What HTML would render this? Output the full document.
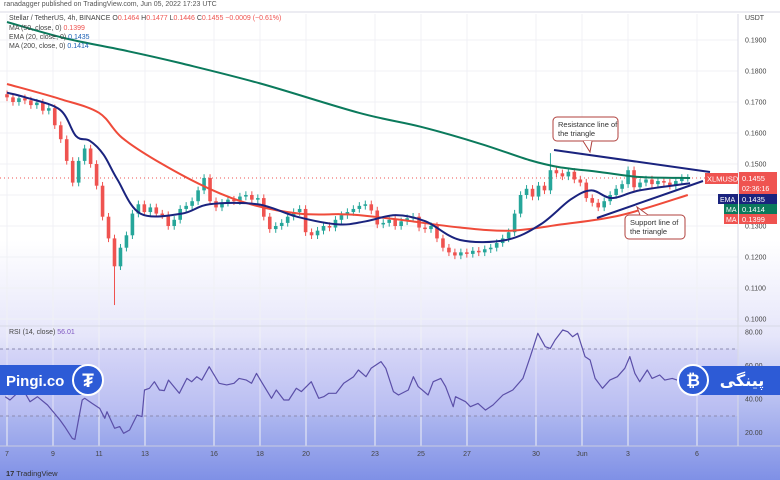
<!DOCTYPE html>
<html><head><meta charset="utf-8"><style>
html,body{margin:0;padding:0;width:780px;height:480px;overflow:hidden;background:#fff;font-family:"Liberation Sans",sans-serif}
svg{display:block}
</style></head><body>
<svg id="c" width="780" height="480" viewBox="0 0 780 480" xmlns="http://www.w3.org/2000/svg">
<defs>
<linearGradient id="bg" x1="0" y1="0" x2="0" y2="1">
<stop offset="0" stop-color="#ffffff"/><stop offset="0.5" stop-color="#ffffff"/>
<stop offset="0.7" stop-color="#e6e6fa"/><stop offset="1" stop-color="#7f90e6"/>
</linearGradient>
</defs>
<rect x="0" y="0" width="780" height="480" fill="url(#bg)"/>
<g id="grid"></g>
<rect x="0" y="349" width="738" height="67" fill="#c9c6f5" opacity="0.35"/>
<line x1="0" y1="349" x2="738" y2="349" stroke="#8b8bb0" stroke-dasharray="3,3"/>
<line x1="0" y1="416" x2="738" y2="416" stroke="#8b8bb0" stroke-dasharray="3,3"/>
<line x1="0" y1="326" x2="780" y2="326" stroke="#d8dae5"/>
<line x1="0" y1="446" x2="780" y2="446" stroke="#c8cbe0"/>
<line x1="738" y1="14" x2="738" y2="446" stroke="#d8dae5"/>
<line x1="0" y1="178" x2="738" y2="178" stroke="#ef5350" stroke-dasharray="1,3"/>
<g id="candles"></g>
<g id="mas"></g>
<g id="rsi"></g>
<g id="axes"></g>
<line x1="554" y1="150" x2="710" y2="172" stroke="#1a237e" stroke-width="2"/>
<line x1="597" y1="218" x2="703" y2="181" stroke="#1a237e" stroke-width="2"/>
<g>
<rect x="553" y="117" width="65" height="24" rx="4" fill="#fff" stroke="#b0413e"/>
<path d="M583 141 L590 152 L592 141" fill="#fff" stroke="#b0413e"/>
<text x="558" y="127" font-size="7.5" fill="#333">Resistance line of</text>
<text x="558" y="136" font-size="7.5" fill="#333">the triangle</text>
</g>
<g>
<rect x="625" y="215" width="60" height="24" rx="4" fill="#fff" stroke="#b0413e"/>
<path d="M640 215 L637 207 L648 215" fill="#fff" stroke="#b0413e"/>
<text x="630" y="225" font-size="7.5" fill="#333">Support line of</text>
<text x="630" y="234" font-size="7.5" fill="#333">the triangle</text>
</g>
<g>
<rect x="705" y="173" width="33" height="11" fill="#ef5350"/><text x="707" y="181.5" font-size="7.5" fill="#fff">XLMUSDT</text>
<rect x="739" y="172" width="38" height="22" fill="#ef5350"/><text x="742" y="181" font-size="7.5" fill="#fff">0.1455</text><text x="742" y="191" font-size="7" fill="#fff">02:36:16</text>
</g>
<g><rect x="718" y="194" width="20" height="10" fill="#1a237e"/><text x="720" y="202" font-size="7" fill="#fff">EMA</text><rect x="739" y="194" width="38" height="10" fill="#1a237e"/><text x="742" y="202" font-size="7.5" fill="#fff">0.1435</text></g>
<g><rect x="724" y="204" width="14" height="10" fill="#0b7a5c"/><text x="726" y="212" font-size="7" fill="#fff">MA</text><rect x="739" y="204" width="38" height="10" fill="#0b7a5c"/><text x="742" y="212" font-size="7.5" fill="#fff">0.1414</text></g>
<g><rect x="724" y="214" width="14" height="10" fill="#ef5350"/><text x="726" y="222" font-size="7" fill="#fff">MA</text><rect x="739" y="214" width="38" height="10" fill="#ef5350"/><text x="742" y="222" font-size="7.5" fill="#fff">0.1399</text></g>
<text x="4" y="6" font-size="7" fill="#555">ranadagger published on TradingView.com, Jun 05, 2022 17:23 UTC</text>
<line x1="0" y1="12" x2="780" y2="12" stroke="#d8dae5"/>
<text x="9" y="20" font-size="7" fill="#444">Stellar / TetherUS, 4h, BINANCE  O<tspan fill="#ef5350">0.1464</tspan> H<tspan fill="#ef5350">0.1477</tspan> L<tspan fill="#ef5350">0.1446</tspan> C<tspan fill="#ef5350">0.1455  −0.0009 (−0.61%)</tspan></text>
<text x="9" y="30" font-size="7" fill="#444">MA (50, close, 0) <tspan fill="#ef5350">0.1399</tspan></text>
<text x="9" y="39" font-size="7" fill="#444">EMA (20, close, 0) <tspan fill="#1a5fb4">0.1435</tspan></text>
<text x="9" y="48" font-size="7" fill="#444">MA (200, close, 0) <tspan fill="#1a5fb4">0.1414</tspan></text>
<text x="745" y="20" font-size="7" fill="#444">USDT</text>
<text x="9" y="334" font-size="7" fill="#444">RSI (14, close) <tspan fill="#7e57c2">56.01</tspan></text>
<text x="6" y="476" font-size="7.5" fill="#333"><tspan font-weight="bold">17</tspan> TradingView</text>
<g>
<rect x="0" y="365" width="90" height="30" fill="#2d5bd6"/>
<text x="6" y="386" font-size="15" font-weight="bold" fill="#fff">Pingi.co</text>
<circle cx="88" cy="380" r="15" fill="#2d5bd6" stroke="#fff" stroke-width="2"/>
<text x="88" y="387" font-size="19" font-weight="bold" fill="#fff" text-anchor="middle">₮</text>
</g>
<g>
<rect x="693" y="366" width="87" height="29" fill="#2d5bd6"/>
<circle cx="693" cy="380" r="15" fill="#2d5bd6" stroke="#fff" stroke-width="2"/>
<text x="693" y="386" font-size="17" font-weight="bold" fill="#fff" text-anchor="middle">₿</text>
<text x="742" y="386" font-size="16" font-weight="bold" fill="#fff" text-anchor="middle" font-family="DejaVu Sans,sans-serif">پینگی</text>
</g>
</svg>
<script>
const closes=[0.1715,0.1700,0.1712,0.1705,0.1690,0.1698,0.1672,0.1680,0.1625,0.1580,0.1510,0.1440,0.1510,0.1550,0.1500,0.1430,0.1330,0.1260,0.1170,0.1230,0.1270,0.1340,
0.1370,0.1345,0.1360,0.1340,0.1335,0.1300,0.1320,0.1355,0.1365,0.1380,0.1415,0.1455,0.1380,0.1360,0.1375,0.1385,0.1380,0.1395,0.1400,0.1385,0.1390,
0.1330,0.1290,0.1300,0.1310,0.1330,0.1345,0.1355,0.1280,0.1270,0.1285,0.1300,0.1295,0.1320,0.1335,0.1345,0.1355,0.1365,0.1370,0.1350,0.1305,
0.1310,0.1320,0.1300,0.1315,0.1325,0.1330,0.1295,0.1290,0.1300,0.1260,0.1230,0.1215,0.1205,0.1215,0.1210,0.1220,0.1215,0.1225,0.1230,
0.1245,0.1260,0.1280,0.1340,0.1400,0.1420,0.1395,0.1430,0.1415,0.1480,0.1470,0.1460,0.1475,0.1450,0.1440,0.1390,0.1375,0.1360,0.1380,
0.1400,0.1420,0.1435,0.1480,0.1425,0.1440,0.1450,0.1435,0.1445,0.1440,0.1430,0.1445,0.1455,0.1455];
const firstOpen=0.1725;
const lowOverride=[[18,0.1045],[91,0.1535]];
const maDays=[0,2.3,4,5,6.7,8.8,10.6,12.7,14.5,15.3,17.1,19.7,21.9,24.1,26.7,29.6];
const ma50=[0.1758,0.1710,0.1665,0.1585,0.1502,0.1420,0.1370,0.1340,0.1338,0.1335,0.1320,0.1295,0.1285,0.1305,0.1335,0.1400];
const emaDays=[0,0.8,2.3,3,3.6,4.2,4.8,5.8,7.6,8.8,10.9,12.6,14.4,15.6,16.9,18.2,19.7,21.7,23.2,24.5,25.4,26.3,27.5,29.7];
const ema20=[0.1730,0.1715,0.1675,0.1590,0.1575,0.1530,0.1450,0.1340,0.1340,0.1370,0.1370,0.1330,0.1305,0.1315,0.1335,0.1315,0.1255,0.1255,0.1305,0.1385,0.1415,0.1390,0.1415,0.1438];
const ma200Days=[0,2.5,5.2,7.5,11,15.3,18,20.6,22.7,24,25.8,27.5,29.7];
const ma200=[0.1958,0.1906,0.1865,0.1826,0.1760,0.1665,0.1620,0.1565,0.1513,0.1490,0.1474,0.1458,0.1455];
const rsiDays=[-0.08,0.13,0.67,1.0,1.32,1.76,2.3,2.51,2.84,2.95,3.27,3.38,3.7,4.03,4.25,4.35,4.68,4.9,5.07,5.33,5.65,5.87,5.98,6.19,6.41,6.63,6.84,7.02,7.49,7.82,8.03,8.25,8.47,8.79,9.22,9.55,9.87,10.09,10.41,10.63,10.85,11.06,11.5,11.71,12.04,12.25,12.58,12.8,13.23,13.55,13.77,13.99,14.31,14.64,15.07,15.28,15.61,15.83,16.26,16.47,16.8,17.02,17.45,17.67,17.88,18.31,18.53,18.86,19.07,19.4,19.5,19.94,20.15,20.48,20.8,21.13,21.56,21.99,22.43,22.75,23.08,23.4,23.62,23.83,24.16,24.38,24.59,24.81,25.13,25.35,25.57,25.89,26.21,26.54,26.86,27.08,27.3,27.51,27.84,28.05,28.38,28.6,28.92,29.14,29.46];
const rsiVals=[41.4,39.4,46.4,38.4,41.4,36.4,27.5,23.5,16.5,15.9,39.4,40.4,37.4,34.4,28.5,32.4,22.5,23.5,19.5,21.5,30.4,29.5,45.4,46.4,50.3,45.4,45,51.3,43.4,52.3,50.3,53.3,51.3,59.3,49.4,48.4,49.4,52.3,51.3,49.4,55.3,50.3,40.4,45.4,39.4,39.4,46.4,44.4,50.3,40.4,41.4,43.4,43.4,49.4,53.3,57.3,53.3,58.3,62.3,58.3,44.4,42.4,45.4,53.3,47.4,42.4,50.3,52.3,47.4,35.4,41.4,38.4,35.4,37.4,33.4,36.4,42.4,45.4,52.3,65.3,79.2,71.2,70.2,75.2,81.2,80.2,77.2,79.2,65.3,63.3,52.3,46.4,51.3,53.3,58.3,65.3,55.3,50.3,57.3,52.3,54.3,51.3,52.3,51.3,53.3];
const priceTicks=[0.19,0.18,0.17,0.16,0.15,0.14,0.13,0.12,0.11,0.10];
const rsiTicks=[80,60,40,20];
const dateLabels=["7","9","11","13","16","18","20","23","25","27","30","Jun","3","6"];
const dateDays=[0,2,4,6,9,11,13,16,18,20,23,25,27,30];

const NS="http://www.w3.org/2000/svg";
const xDay=d=>7+d*23;
const yP=p=>40+(0.19-p)*3100;
const yR=v=>332+(80-v)*1.675;
function mk(tag,attrs,parent){const e=document.createElementNS(NS,tag);for(const k in attrs)e.setAttribute(k,attrs[k]);document.getElementById(parent).appendChild(e);return e;}

priceTicks.forEach(p=>{const g=mk('line',{x1:0,x2:738,y1:yP(p),y2:yP(p),stroke:'#f0f1f5'},'grid');


const t=mk('text',{x:745,y:yP(p)+2.5,'font-size':7,fill:'#444'},'axes');t.textContent=p.toFixed(4);

});
rsiTicks.forEach(v=>{const t=mk('text',{x:745,y:yR(v)+2.5,'font-size':7,fill:'#444'},'axes');t.textContent=v.toFixed(2);

});
dateLabels.forEach((l,i)=>{const x=xDay(dateDays[i]);const g=mk('line',{x1:x,x2:x,y1:14,y2:446,stroke:'#f0f1f5'},'grid');


const t=mk('text',{x:x,y:456,'font-size':7,fill:'#444','text-anchor':'middle'},'axes');t.textContent=l;

});

const step=29.6/(closes.length-1);
closes.forEach((c,i)=>{const o=i?closes[i-1]:firstOpen;const up=c>=o;const col=up?'#26a69a':'#ef5350';
let hi=Math.max(o,c)+0.0012,lo=Math.min(o,c)-0.0012;
lowOverride.forEach(([k,v])=>{if(k===i){if(v<lo)lo=v;else hi=v;}});
const x=xDay(i*step);
const w=mk('line',{x1:x,x2:x,y1:yP(hi),y2:yP(lo),stroke:col,'stroke-width':1},'candles');


const b=mk('rect',{x:x-1.8,width:3.6,y:yP(Math.max(o,c)),height:Math.max(1,Math.abs(yP(o)-yP(c))),fill:col},'candles');

});

function line(days,vals,yf,col,w,name,parent,smooth){
const pts=days.map((dd,i)=>[xDay(dd),yf(vals[i])]);
let d='M'+pts[0][0].toFixed(1)+' '+pts[0][1].toFixed(1);
for(let i=0;i<pts.length-1;i++){
if(!smooth){d+=' L'+pts[i+1][0].toFixed(1)+' '+pts[i+1][1].toFixed(1);continue;}
const p0=pts[i-1]||pts[i],p1=pts[i],p2=pts[i+1],p3=pts[i+2]||p2;
const c1=[p1[0]+(p2[0]-p0[0])/6,p1[1]+(p2[1]-p0[1])/6],c2=[p2[0]-(p3[0]-p1[0])/6,p2[1]-(p3[1]-p1[1])/6];
d+=' C'+c1.map(v=>v.toFixed(1)).join(' ')+' '+c2.map(v=>v.toFixed(1)).join(' ')+' '+p2.map(v=>v.toFixed(1)).join(' ');}
const p=mk('path',{d:d,fill:'none',stroke:col,'stroke-width':w,'stroke-linejoin':'round'},parent);

}
line(ma200Days,ma200,yP,'#0b7a5c',2,'ma200-line','mas',true);
line(maDays,ma50,yP,'#ef4b3a',2,'ma50-line','mas',true);
line(emaDays,ema20,yP,'#1a237e',2,'ema20-line','mas',true);
line(rsiDays,rsiVals,yR,'#5b4fa8',1.2,'rsi-line','rsi',false);
</script>
</body></html>
